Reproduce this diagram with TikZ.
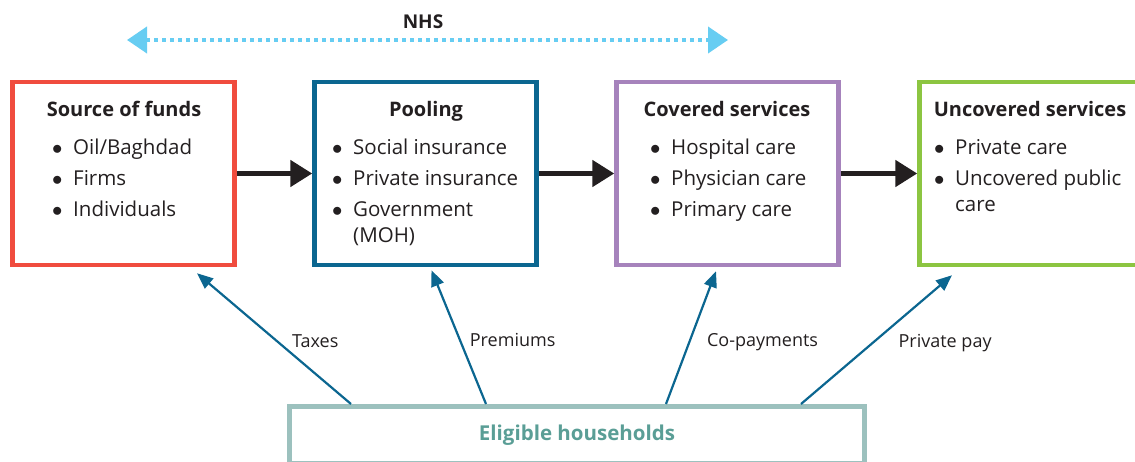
\documentclass[tikz,border=0pt]{standalone}
\usepackage{fontspec}
\setmainfont{Open Sans}
\usetikzlibrary{arrows.meta,positioning}
\definecolor{inkblack}{HTML}{231F20}
\definecolor{fundred}{HTML}{F04C3E}
\definecolor{poolblue}{HTML}{0B6690}
\definecolor{covpurple}{HTML}{A683BC}
\definecolor{uncgreen}{HTML}{8CC541}
\definecolor{hhteal}{HTML}{9CC1BE}
\definecolor{hhtext}{HTML}{5A9E96}
\definecolor{nhsblue}{HTML}{67CDF2}
\newcommand{\itm}{\makebox[21pt][l]{$\bullet$}}
\tikzset{
  box/.style={draw=#1, line width=4.5pt, minimum width=222pt, minimum height=183pt, inner sep=0pt},
  head/.style={font=\fontsize{20}{24}\selectfont\bfseries, text=inkblack, anchor=base},
  items/.style={font=\fontsize{20.5}{26}\selectfont, text=inkblack, align=left, anchor=base west, inner sep=0pt},
  flow/.style={-{Triangle[length=22pt,width=26pt]}, line width=5pt, draw=inkblack},
  pay/.style={-{Triangle[length=16pt,width=13pt]}, line width=2.2pt, draw=poolblue},
  lbl/.style={font=\fontsize{18}{20}\selectfont, text=inkblack, inner sep=0pt, yshift=-3pt},
}
\begin{document}
\begin{tikzpicture}[x=1pt,y=-1pt]
  \useasboundingbox (0,0) rectangle (1135,462);
  \node[box=fundred] (src) at (123.5,173.5) {};
  \node[box=poolblue] (pool) at (425.5,173.5) {};
  \node[box=covpurple] (cov) at (727.5,173.5) {};
  \node[box=uncgreen] (unc) at (1030.5,173.5) {};
  \node[head] (srct) at (124,117) {Source of funds};
  \node[head] (poolt) at (426,117) {Pooling};
  \node[head] (covt) at (727,117) {Covered services};
  \node[head] (unct) at (1030,117) {Uncovered services};
  \node[items] (srcl) at (52,217) {\itm Oil/Baghdad\\[5pt]\itm Firms\\[5pt]\itm Individuals};
  \node[items] (pooll) at (332,243) {\itm Social insurance\\[5pt]\itm Private insurance\\[5pt]\itm Government\\\hspace*{21pt}(MOH)};
  \node[items] (covl) at (650,217) {\itm Hospital care\\[5pt]\itm Physician care\\[5pt]\itm Primary care};
  \node[items] (uncl) at (934,212) {\itm Private care\\[5pt]\itm Uncovered public\\\hspace*{21pt}care};
  \draw[flow] (src) -- (pool);
  \draw[flow] (pool) -- (cov);
  \draw[flow] (cov) -- (unc);
  \node[font=\fontsize{19}{22}\selectfont\bfseries, text=inkblack] (nhs) at (423,22) {NHS};
  \coordinate (nhsl) at (127,40);
  \coordinate (nhsr) at (728,40);
  \draw[{Triangle[length=20pt,width=26pt]}-{Triangle[length=20pt,width=26pt]}, line width=4pt, dash pattern=on 4pt off 4pt, draw=nhsblue] (nhsl) -- (nhsr);
  \node[draw=hhteal, line width=5pt, minimum width=575pt, minimum height=57pt, text=hhtext, font=\fontsize{20.5}{24}\selectfont\bfseries] (hh) at (577,435) {Eligible households};
  \draw[pay] ([xshift=-226pt]hh.north) -- ([xshift=73.5pt,yshift=-6pt]src.south) node[lbl, pos=.5, right=17pt] {Taxes};
  \draw[pay] ([xshift=-91pt]hh.north) -- ([xshift=6pt,yshift=-3pt]pool.south) node[lbl, pos=.5, right=10pt] {Premiums};
  \draw[pay] ([xshift=89pt]hh.north) -- ([xshift=-11.5pt,yshift=-4pt]cov.south) node[lbl, pos=.5, right=15pt, yshift=-2pt] {Co-payments};
  \draw[pay] ([xshift=224pt]hh.north) -- ([xshift=-78.5pt,yshift=-8pt]unc.south) node[lbl, pos=.5, right=21pt] {Private pay};
\end{tikzpicture}
\end{document}
